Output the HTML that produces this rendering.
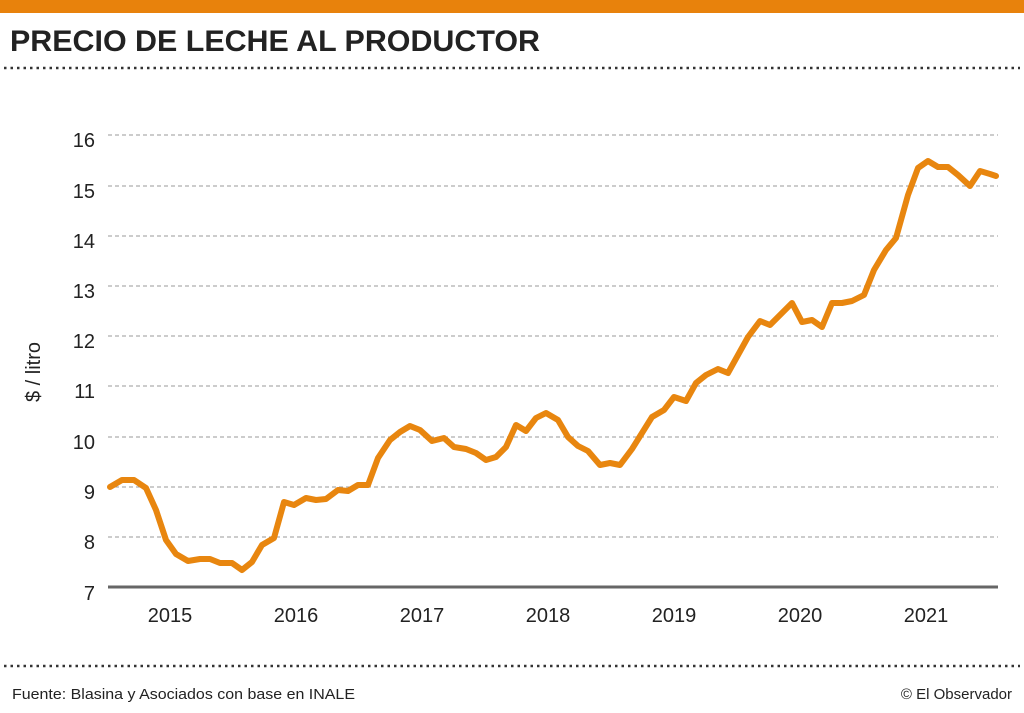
<!DOCTYPE html>
<html><head><meta charset="utf-8"><style>
body{margin:0;background:#fff;width:1024px;height:708px;overflow:hidden;font-family:"Liberation Sans",sans-serif}
</style></head><body>
<svg width="1024" height="708" viewBox="0 0 1024 708" xmlns="http://www.w3.org/2000/svg">
<rect x="0" y="0" width="1024" height="13" fill="#e8820c"/>
<text x="10" y="51" font-family="Liberation Sans, sans-serif" font-weight="bold" font-size="30" fill="#222" textLength="530" lengthAdjust="spacingAndGlyphs">PRECIO DE LECHE AL PRODUCTOR</text>
<line x1="4" y1="68" x2="1020" y2="68" stroke="#333" stroke-width="2.5" stroke-dasharray="2.5,4"/>
<line x1="4" y1="666" x2="1020" y2="666" stroke="#333" stroke-width="2.5" stroke-dasharray="2.5,4"/>
<g stroke="#999" stroke-width="1" stroke-dasharray="4,3">
<line x1="108" y1="135" x2="998" y2="135"/><line x1="108" y1="186" x2="998" y2="186"/>
<line x1="108" y1="236" x2="998" y2="236"/><line x1="108" y1="286" x2="998" y2="286"/>
<line x1="108" y1="336" x2="998" y2="336"/><line x1="108" y1="386" x2="998" y2="386"/>
<line x1="108" y1="437" x2="998" y2="437"/><line x1="108" y1="487" x2="998" y2="487"/>
<line x1="108" y1="537" x2="998" y2="537"/>
</g>
<line x1="108" y1="587" x2="998" y2="587" stroke="#666" stroke-width="3"/>
<g font-size="20" fill="#222" text-anchor="end">
<text x="95" y="147">16</text><text x="95" y="198">15</text><text x="95" y="248">14</text>
<text x="95" y="298">13</text><text x="95" y="348">12</text><text x="95" y="398">11</text>
<text x="95" y="449">10</text><text x="95" y="499">9</text><text x="95" y="549">8</text>
<text x="95" y="600">7</text>
</g>
<g font-size="20" fill="#222" text-anchor="middle">
<text x="170" y="622">2015</text><text x="296" y="622">2016</text><text x="422" y="622">2017</text>
<text x="548" y="622">2018</text><text x="674" y="622">2019</text><text x="800" y="622">2020</text>
<text x="926" y="622">2021</text>
</g>
<text transform="translate(40,372) rotate(-90)" font-size="20" fill="#222" text-anchor="middle">$ / litro</text>
<polyline fill="none" stroke="#e8860f" stroke-width="6" stroke-linejoin="round" stroke-linecap="round" points="110,487 122,480 134,480 146,488 156,510 166,540 176,554 188,561 200,559 210,559 220,563 232,563 242,570 252,562 262,545 274,538 284,502 294,505 306,498 316,500 326,499 338,490 348,491 358,485 368,485 378,458 390,440 400,432 410,426 420,430 432,441 444,438 454,447 466,449 476,453 486,460 496,457 506,447 516,425 526,431 536,418 546,413 558,420 568,437 578,446 588,451 600,465 610,463 620,465 632,449 642,433 652,417 664,410 674,397 686,401 696,383 706,375 718,369 728,373 738,355 748,337 760,321 770,325 780,315 792,303 802,322 812,320 822,327 832,303 842,303 852,301 864,295 874,270 886,250 896,238 908,195 918,168 928,161 938,167 948,167 958,175 970,186 980,171 990,174 996,176"/>
<text x="12" y="699" font-size="15" fill="#222" textLength="343" lengthAdjust="spacingAndGlyphs">Fuente: Blasina y Asociados con base en INALE</text>
<text x="1012" y="699" font-size="15" fill="#222" text-anchor="end">© El Observador</text>
</svg>
</body></html>
